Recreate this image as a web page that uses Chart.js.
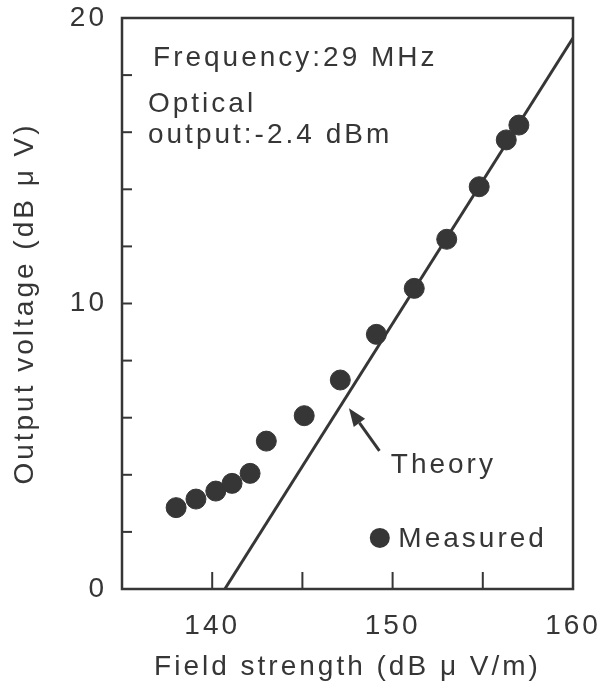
<!DOCTYPE html>
<html>
<head>
<meta charset="utf-8">
<script src="https://cdn.jsdelivr.net/npm/chart.js@4/dist/chart.umd.min.js"></script>
<style>
html, body { margin: 0; padding: 0; background: #fff; }
</style>
</head>
<body>
<canvas id="chart" width="603" height="688"></canvas>
<script>
// Measured points: field strength (dB uV/m) vs output voltage (dB uV)
const fieldStrength = [138.0, 139.1, 140.2, 141.1, 142.1, 143.0, 145.1, 147.1, 149.1, 151.2, 153.0, 154.8, 156.3, 157.0];
const outputVoltage = [2.85, 3.15, 3.43, 3.70, 4.05, 5.18, 6.07, 7.32, 8.92, 10.53, 12.25, 14.09, 15.73, 16.25];

// Theory line end points
const theoryX = [140.7, 160];
const theoryY = [0, 19.3];

// Labelled ticks
const xTickLabels = [140, 150, 160];
const yTickLabels = [0, 10, 20];

const INK = '#363636';
const FONT = "'Liberation Sans', Arial, sans-serif";

const toPoints = (xs, ys) => xs.map((x, i) => ({ x: x, y: ys[i] }));

// wide letter spacing like the scanned figure
const spacingPlugin = {
    id: 'spacing',
    beforeLayout(chart) { chart.ctx.letterSpacing = '3px'; },
    beforeDraw(chart) { chart.ctx.letterSpacing = '3px'; }
};

// box round the plot plus inward ticks
const framePlugin = {
    id: 'frame',
    afterDraw(chart) {
        const { ctx, chartArea: a, scales } = chart;
        ctx.save();
        ctx.strokeStyle = INK;
        ctx.lineWidth = 2.5;
        ctx.strokeRect(a.left, a.top, a.right - a.left, a.bottom - a.top);
        ctx.lineWidth = 2;
        scales.x.ticks.forEach(t => {
            if (t.value <= scales.x.min || t.value >= scales.x.max) return;
            const px = scales.x.getPixelForValue(t.value);
            ctx.beginPath();
            ctx.moveTo(px, a.bottom);
            ctx.lineTo(px, a.bottom - 17);
            ctx.stroke();
        });
        scales.y.ticks.forEach(t => {
            if (t.value <= scales.y.min || t.value >= scales.y.max) return;
            const py = scales.y.getPixelForValue(t.value);
            ctx.beginPath();
            ctx.moveTo(a.left, py);
            ctx.lineTo(a.left + 10, py);
            ctx.stroke();
        });
        ctx.restore();
    }
};

// text notes, arrow and the "Measured" key
const notes = [
    { text: 'Frequency:29 MHz', x: 136.72, y: 18.32 },
    { text: 'Optical', x: 136.44, y: 16.71 },
    { text: 'output:-2.4 dBm', x: 136.44, y: 15.62 },
    { text: 'Theory', x: 149.9, y: 4.06 },
    { text: 'Measured', x: 150.32, y: 1.47 }
];
const arrow = { from: [149.27, 4.84], to: [147.58, 6.33] };
const keyDot = { x: 149.29, y: 1.79 };

const notesPlugin = {
    id: 'notes',
    afterDraw(chart) {
        const { ctx, scales: { x, y } } = chart;
        ctx.save();
        ctx.fillStyle = INK;
        ctx.strokeStyle = INK;
        ctx.font = '28px ' + FONT;
        ctx.letterSpacing = '3px';
        ctx.textBaseline = 'alphabetic';
        ctx.textAlign = 'left';
        notes.forEach(n => ctx.fillText(n.text, x.getPixelForValue(n.x), y.getPixelForValue(n.y)));

        // arrow
        const x1 = x.getPixelForValue(arrow.from[0]), y1 = y.getPixelForValue(arrow.from[1]);
        const x2 = x.getPixelForValue(arrow.to[0]), y2 = y.getPixelForValue(arrow.to[1]);
        const ang = Math.atan2(y2 - y1, x2 - x1);
        const headLen = 18, headW = 7;
        const bx = x2 - headLen * Math.cos(ang), by = y2 - headLen * Math.sin(ang);
        ctx.lineWidth = 3;
        ctx.beginPath();
        ctx.moveTo(x1, y1);
        ctx.lineTo(bx, by);
        ctx.stroke();
        ctx.beginPath();
        ctx.moveTo(x2, y2);
        ctx.lineTo(bx + headW * Math.sin(ang), by - headW * Math.cos(ang));
        ctx.lineTo(bx - headW * Math.sin(ang), by + headW * Math.cos(ang));
        ctx.closePath();
        ctx.fill();

        // key dot
        ctx.beginPath();
        ctx.arc(x.getPixelForValue(keyDot.x), y.getPixelForValue(keyDot.y), 10, 0, Math.PI * 2);
        ctx.fill();
        ctx.restore();
    }
};

new Chart(document.getElementById('chart'), {
    type: 'scatter',
    data: {
        datasets: [
            {
                label: 'Measured',
                data: toPoints(fieldStrength, outputVoltage),
                backgroundColor: INK,
                borderColor: INK,
                pointRadius: 10,
                pointHoverRadius: 10
            },
            {
                label: 'Theory',
                type: 'line',
                data: toPoints(theoryX, theoryY),
                borderColor: INK,
                borderWidth: 3,
                pointRadius: 0,
                fill: false
            }
        ]
    },
    options: {
        responsive: false,
        animation: false,
        layout: { padding: { top: 18, right: 30, left: 0, bottom: 0 } },
        plugins: {
            legend: { display: false },
            tooltip: { enabled: false }
        },
        scales: {
            x: {
                type: 'linear',
                min: 135,
                max: 160,
                grid: { display: false, drawTicks: false },
                border: { display: false },
                ticks: {
                    stepSize: 5,
                    autoSkip: false,
                    maxRotation: 0,
                    padding: 20,
                    color: INK,
                    font: { family: FONT, size: 28 },
                    callback: v => xTickLabels.includes(v) ? String(v) : ''
                },
                title: {
                    display: true,
                    text: 'Field strength (dB \u03bc V/m)',
                    color: INK,
                    font: { family: FONT, size: 28 },
                    padding: { top: 0, bottom: 4 }
                },
                afterFit: s => { s.height = 99; s.paddingLeft = 0; s.paddingRight = 0; }
            },
            y: {
                min: 0,
                max: 20,
                grid: { display: false, drawTicks: false },
                border: { display: false },
                ticks: {
                    stepSize: 2,
                    autoSkip: false,
                    padding: 15,
                    color: INK,
                    font: { family: FONT, size: 28 },
                    callback: v => yTickLabels.includes(v) ? String(v) : ''
                },
                title: {
                    display: true,
                    text: 'Output voltage (dB \u03bc V)',
                    color: INK,
                    font: { family: FONT, size: 28 },
                    padding: { top: 8, bottom: 0 }
                },
                afterFit: s => { s.width = 122; s.paddingTop = 0; s.paddingBottom = 0; }
            }
        }
    },
    plugins: [spacingPlugin, framePlugin, notesPlugin]
});
</script>
</body>
</html>
